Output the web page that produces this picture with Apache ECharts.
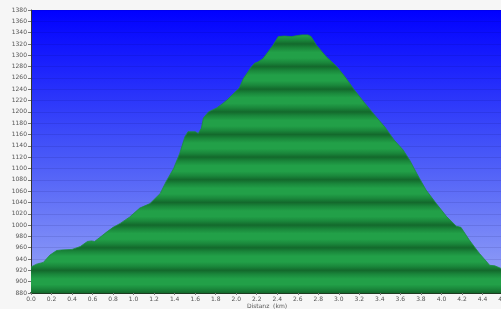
<!DOCTYPE html>
<html>
<head>
<meta charset="utf-8">
<script src="https://cdn.jsdelivr.net/npm/echarts@6/dist/echarts.min.js"></script>
<style>
html,body{margin:0;padding:0;background:#f6f6f6;}
#c{width:501px;height:309px;}
</style>
</head>
<body>
<div id="c"></div>
<script>
// distance (km)
const dist = [0,0.055,0.12,0.185,0.25,0.30,0.40,0.48,0.55,0.59,0.62,0.67,0.74,0.80,0.87,0.96,1.06,1.16,1.26,1.32,1.39,1.45,1.50,1.53,1.60,1.63,1.66,1.68,1.73,1.81,1.87,1.91,2.03,2.07,2.15,2.18,2.21,2.26,2.36,2.41,2.47,2.54,2.60,2.64,2.70,2.73,2.78,2.88,2.98,3.06,3.15,3.25,3.35,3.45,3.54,3.625,3.69,3.76,3.85,3.95,4.05,4.145,4.19,4.27,4.37,4.47,4.52,4.60];
// elevation (m)
const elev = [926,931,934,947,955,956,957,962,971,972,971,978,988,996,1003,1014,1030,1038,1056,1078,1100,1127,1156,1165,1165,1162,1171,1189,1200,1207,1215,1221,1242,1259,1280,1286,1288,1294,1318,1333,1334,1333,1335,1336,1336,1333,1318,1297,1280,1262,1239,1216,1194,1173,1150,1133,1115,1091,1062,1038,1015,998,996,974,950,929,928,922];
const yMin = 880, yMax = 1380, yStep = 20;
const xMin = 0, xMax = 4.6, xStep = 0.2;
const xName = 'Distanz  (km)';

const data = dist.map((d, i) => [d, elev[i]]);
const chart = echarts.init(document.getElementById('c'), null, {renderer: 'canvas'});
const font = {fontSize: 6, color: '#555', fontFamily: 'DejaVu Sans'};

const option = {
  animation: false,
  backgroundColor: '#f6f6f6',
  grid: {
    left: 31, top: 10, width: 472, height: 283,
    containLabel: false, outerBoundsMode: 'none',
    show: true, borderWidth: 0,
    backgroundColor: new echarts.graphic.LinearGradient(0, 0, 0, 1, [
      {offset: 0, color: '#0000ff'},
      {offset: 0.5, color: '#4656f8'},
      {offset: 1, color: '#9aa8f6'}
    ])
  },
  xAxis: {
    type: 'value', min: xMin, max: xMax, interval: xStep,
    name: xName, nameLocation: 'middle', nameGap: 10, nameMoveOverlap: false,
    nameTextStyle: {fontSize: 6, color: '#555', fontFamily: 'DejaVu Sans', verticalAlign: 'top'},
    axisLine: {show: true, lineStyle: {color: '#1c3a20', width: 2}},
    axisTick: {show: true, length: 2, inside: false, lineStyle: {color: '#777'}},
    axisLabel: Object.assign({margin: 3, hideOverlap: false, formatter: v => v.toFixed(1)}, font),
    splitLine: {show: false}
  },
  yAxis: {
    type: 'value', min: yMin, max: yMax, interval: yStep,
    axisLine: {show: true, lineStyle: {color: '#333', width: 1}},
    axisTick: {show: true, length: 3, lineStyle: {color: '#777'}},
    axisLabel: Object.assign({margin: 4, formatter: v => String(v)}, font),
    splitLine: {show: true, lineStyle: {color: 'rgba(0,0,80,0.10)', width: 1}}
  },
  series: [{
    type: 'line',
    data: data,
    showSymbol: false,
    smooth: false,
    lineStyle: {width: 0.8, color: '#1d8c3e'},
    areaStyle: {color: '#22a048', opacity: 1}
  }]
};
chart.setOption(option);

// banded green fill, dark band every 40 m, positioned through the y axis
const stops = [];
const span = yMax - yMin;
for (let e = yMin; e < yMax; e += 40) {
  const f = v => 1 - (v - yMin) / span; // offset from top
  stops.push({offset: f(e), color: '#13692c'});
  stops.push({offset: f(e + 7), color: '#1a873b'});
  stops.push({offset: f(e + 15), color: '#22a048'});
  stops.push({offset: f(e + 25), color: '#22a048'});
  stops.push({offset: f(e + 33), color: '#1a873b'});
}
stops.sort((a, b) => a.offset - b.offset);
const yTop = chart.convertToPixel({yAxisIndex: 0}, yMax);
const yBot = chart.convertToPixel({yAxisIndex: 0}, yMin);
chart.setOption({
  series: [{
    areaStyle: {
      color: {type: 'linear', x: 0, y: yTop, x2: 0, y2: yBot, global: true,
              colorStops: stops.map(s => ({offset: Math.min(1, Math.max(0, s.offset)), color: s.color}))}
    }
  }]
});
</script>
</body>
</html>
